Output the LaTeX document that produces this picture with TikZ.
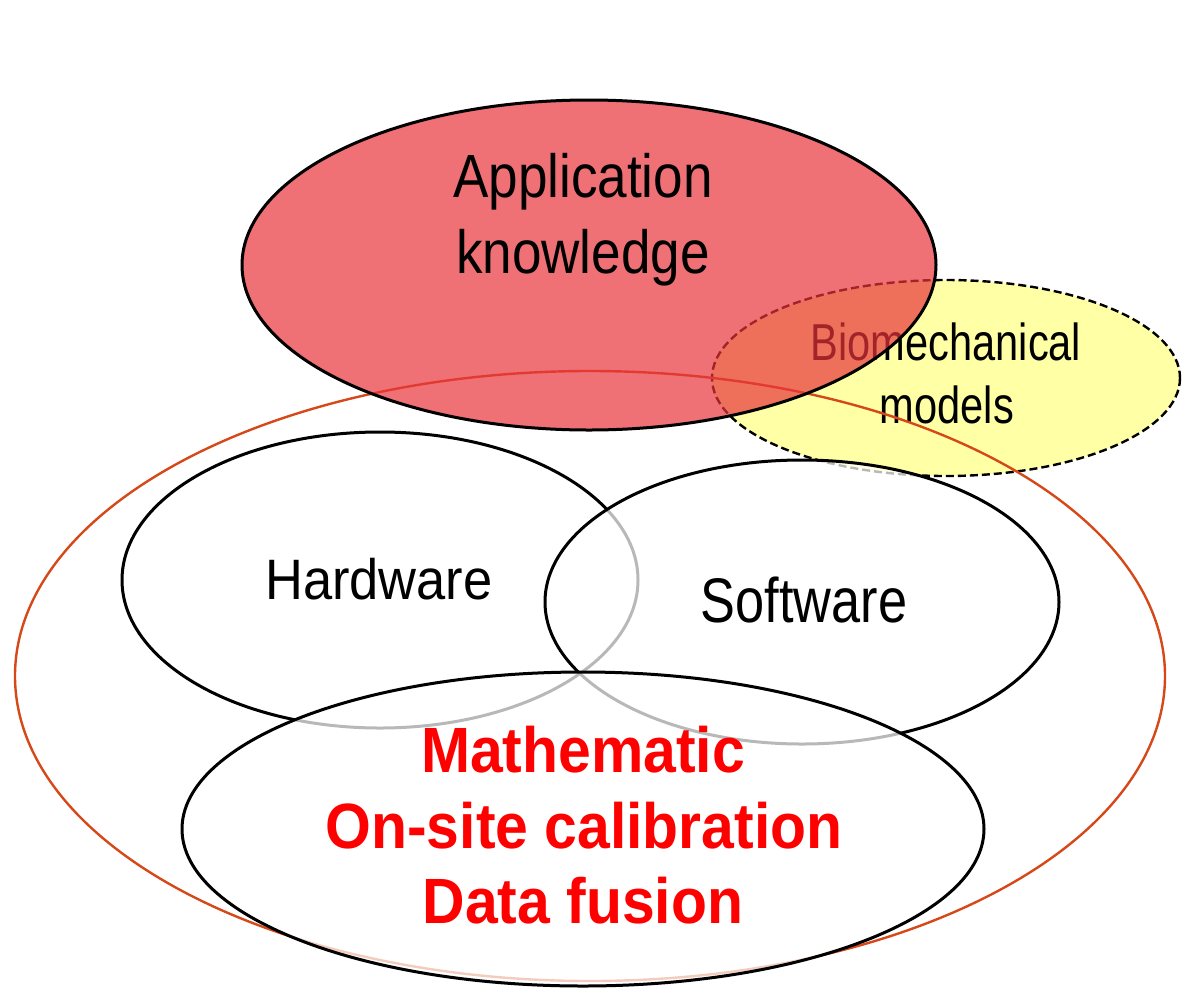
\documentclass[tikz,border=0pt]{standalone}
\usepackage{fontspec}
\setmainfont{Liberation Sans}
\definecolor{appred}{RGB}{232,52,60}
\definecolor{bioyel}{RGB}{255,255,165}
\definecolor{outorange}{RGB}{214,72,24}
\definecolor{mathred}{RGB}{255,0,0}
\tikzset{
  ell/.style={draw=black, line width=3pt},
  lbl/.style={anchor=base, inner sep=0pt},
}
\newcommand{\stretchfont}[2]{\fontsize{#1}{#1}\selectfont\addfontfeatures{FakeStretch=#2}}
\begin{document}
\begin{tikzpicture}[x=1pt,y=-1pt]
\useasboundingbox (0,0) rectangle (1184,989);
% Biomechanical models
\draw[fill=bioyel, draw=black, line width=2.4pt, dash pattern=on 8pt off 4pt] (946,378) ellipse [x radius=234, y radius=98];
\node[lbl] (bio1) at (946,360) {\stretchfont{52pt}{0.8}Biomechanical};
\node[lbl] (bio2) at (947,423) {\stretchfont{52pt}{0.8}models};
% big outer ellipse
\draw[draw=outorange, line width=2.4pt] (590,676) ellipse [x radius=575, y radius=305];
% Hardware
\draw[ell] (380,580) ellipse [x radius=258, y radius=148];
% Software
\draw[ell, fill=white, fill opacity=0.72] (802,602) ellipse [x radius=257, y radius=142];
% Mathematic
\draw[ell, fill=white, fill opacity=0.72] (583,829) ellipse [x radius=401, y radius=157];
% Application knowledge
\draw[ell, fill=appred, fill opacity=0.7] (589,265) ellipse [x radius=347, y radius=165];
\node[lbl] (app1) at (583,197) {\stretchfont{61pt}{0.87}Application};
\node[lbl] (app2) at (583,273) {\stretchfont{61pt}{0.87}knowledge};
\node[lbl] (hw) at (379,599) {\stretchfont{57pt}{0.92}Hardware};
\node[lbl] (sw) at (804,622) {\stretchfont{63pt}{0.83}Software};
\node[lbl, text=mathred] (m1) at (583,772) {\stretchfont{64pt}{0.92}\bfseries Mathematic};
\node[lbl, text=mathred] (m2) at (584,848) {\stretchfont{64pt}{0.92}\bfseries On-site calibration};
\node[lbl, text=mathred] (m3) at (583,923) {\stretchfont{64pt}{0.92}\bfseries Data fusion};
\end{tikzpicture}
\end{document}
